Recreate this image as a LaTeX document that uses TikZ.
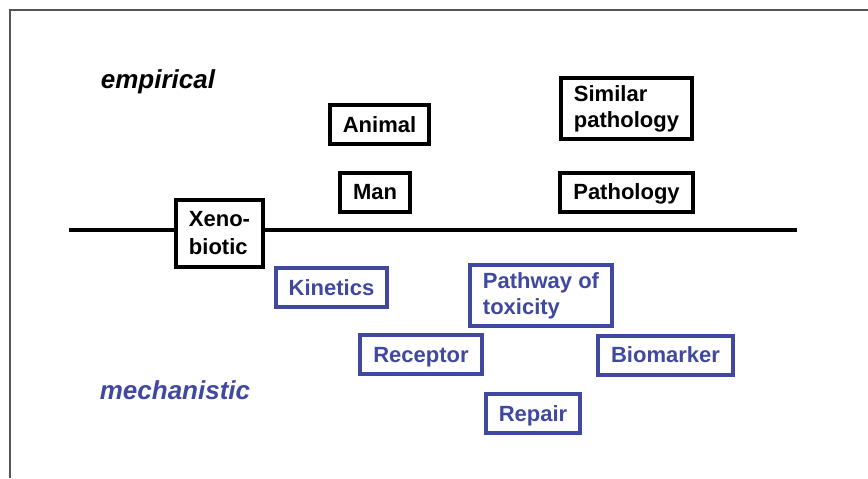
\documentclass[tikz,border=0pt]{standalone}
\usepackage{fontspec}
\setmainfont{Liberation Sans}
\usetikzlibrary{calc}
\definecolor{mechblue}{RGB}{64,72,160}
\definecolor{framegray}{RGB}{85,85,85}

\begin{document}
\begin{tikzpicture}[x=0.5pt,y=-0.5pt,
  box/.style={draw, line width=2pt, fill=white, inner xsep=6.5pt, inner ysep=3.6pt,
    text height=9pt, text depth=1.1pt, minimum height=19.5pt, align=left,
    font=\fontsize{11}{13}\selectfont\bfseries},
  twoline/.style={text height={}, text depth={}},
  emp/.style={box, draw=black, text=black},
  mech/.style={box, draw=mechblue, text=mechblue},
  side/.style={font=\fontsize{13}{15}\selectfont\bfseries\itshape}]
  \useasboundingbox (0,0) rectangle (868,478);
  \draw[framegray, line width=0.75pt] (10,478) -- (10,10) -- (868,10);
  \coordinate (l) at (69,230);
  \coordinate (r) at (797,230);
  \draw[line width=2pt] (l)--(r);
  \node[side] (e) at (158,82) {empirical};
  \node[side, text=mechblue] (m) at (175,390) {mechanistic};
  \node[emp, twoline, minimum height=33.5pt, font=\fontsize{11}{14}\selectfont\bfseries]
    (x) at (219.5,233) {Xeno-\\biotic};
  \node[emp] (a) at (379.5,124.5) {Animal};
  \node[emp] (h) at (375,192) {Man};
  \node[emp, twoline] (s) at (626.5,108.5) {Similar\\pathology};
  \node[emp] (p) at (626.5,192) {Pathology};
  \node[mech] (k) at (331.5,287.5) {Kinetics};
  \node[mech, twoline] (t) at (541,295.5) {Pathway of\\toxicity};
  \node[mech] (c) at (421,354.5) {Receptor};
  \node[mech] (b) at (665.5,355) {Biomarker};
  \node[mech] (rp) at (533,413.5) {Repair};
\end{tikzpicture}
\end{document}
